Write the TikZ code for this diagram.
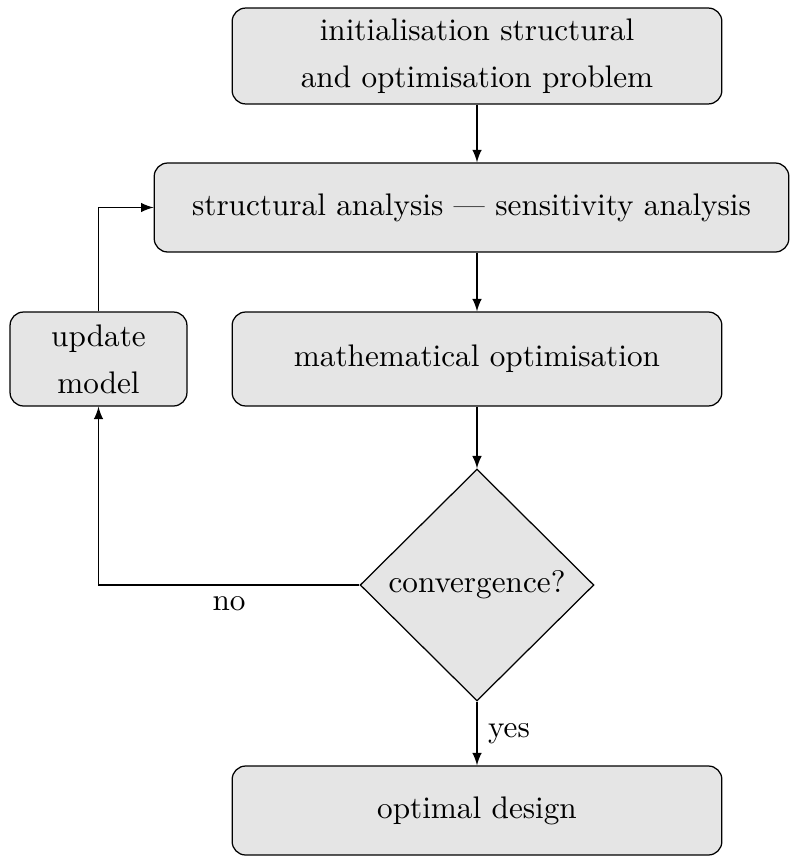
\documentclass[tikz,border=0pt]{standalone}
\usepackage{amsmath}
\usepackage{tikz}
\usetikzlibrary{shapes.geometric}
\usetikzlibrary{positioning}
\usetikzlibrary{calc}
\tikzset{block/.style={draw,fill=gray!20,rounded corners=1ex,align=center,inner sep=0pt},
decision/.style={draw,fill=gray!20,diamond,aspect=1,inner sep=0pt,minimum width=2.633cm,minimum height=2.611cm}}

\begin{document}
\begin{tikzpicture}[x=0.011254cm,y=-0.011254cm]
\useasboundingbox (0,0) rectangle (790,857);
\node[block,minimum width=5.514cm,minimum height=1.08cm] (init) at (477,56) {initialisation structural\\[3pt]and optimisation problem};
\node[block,minimum width=7.146cm,minimum height=1.002cm] (analysis) at (471.5,207.5) {structural analysis --- sensitivity analysis};
\node[block,minimum width=5.514cm,minimum height=1.058cm] (mathopt) at (477,359) {mathematical optimisation};
\node[block,minimum width=1.992cm,minimum height=1.058cm] (update) at (98.5,359) {update\\[3pt]model};
\node[decision] (conv) at (477,585) {convergence?};
\node[block,minimum width=5.514cm,minimum height=1.002cm] (optimal) at (477,810.5) {optimal design};
\draw[-latex] (init.south) -- (init.south |- analysis.north);
\draw[-latex] (init.south |- analysis.south) -- (mathopt.north);
\draw[-latex] (mathopt.south) -- (conv.north);
\draw[-latex] (conv.west) -| (update.south) node [pos=0.25, below] {no};
\draw[-latex] (update.north) |- (analysis.west);
\draw[-latex] (conv.south) -- (optimal.north) node [midway, right] {yes};
\end{tikzpicture}
\end{document}
